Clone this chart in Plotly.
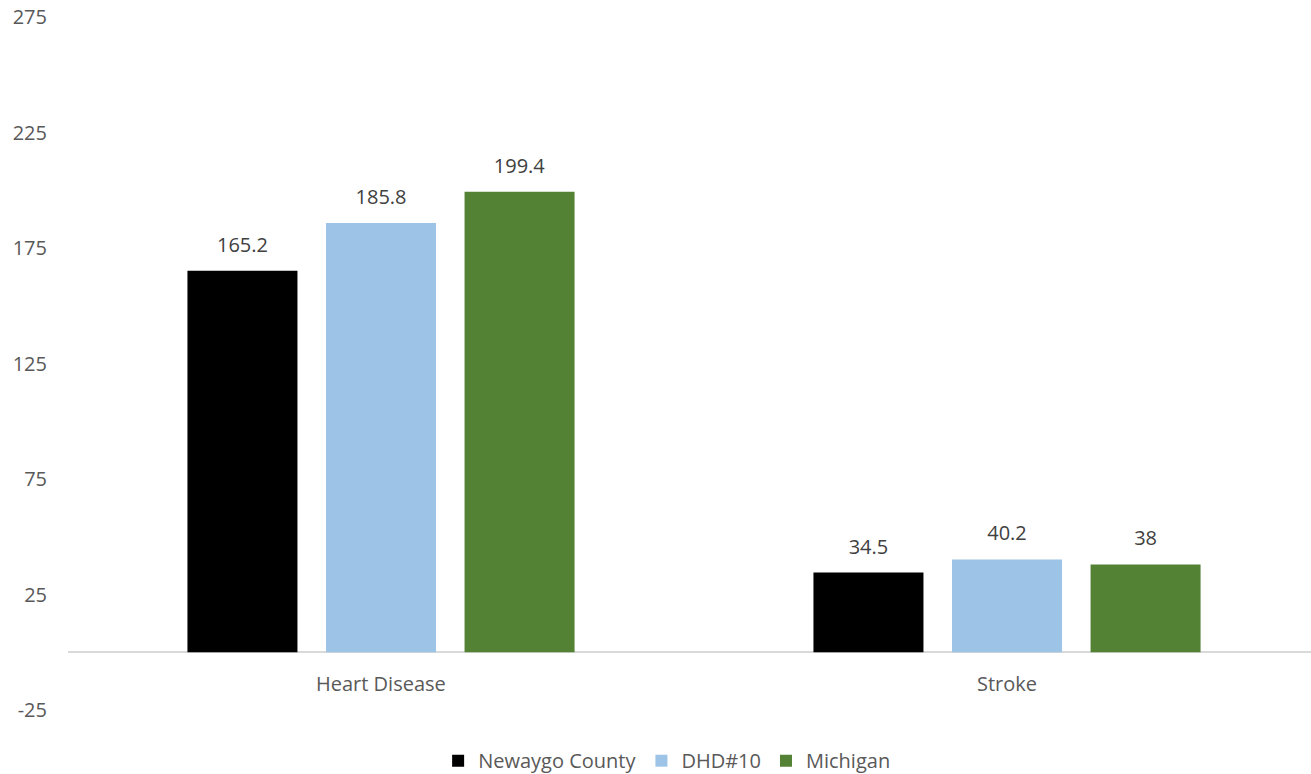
import plotly.graph_objects as go

categories = ["Heart Disease", "Stroke"]
series_names = ["Newaygo County", "DHD#10", "Michigan"]
newaygo = [165.2, 34.5]
dhd10 = [185.8, 40.2]
michigan = [199.4, 38]
tick_vals = [-25, 25, 75, 125, 175, 225, 275]
tick_text = ["-25", "25", "75", "125", "175", "225", "275"]

colors = ["#000000", "#9DC3E6", "#548235"]
font_family = "Open Sans, Liberation Sans, sans-serif"
text_color = "#595959"
fsize = 20

fig = go.Figure()
for name, vals, col in zip(series_names, [newaygo, dhd10, michigan], colors):
    fig.add_trace(go.Bar(
        x=categories,
        y=vals,
        name=name,
        marker=dict(color=col, line=dict(width=0)),
        # small base font + blank second line lifts the label off the bar
        text=[f"<span style='font-size:{fsize}px'>{v:g}</span><br>&nbsp;" for v in vals],
        textposition="outside",
        textfont=dict(size=10, color="#404040", family=font_family),
        cliponaxis=False,
    ))

# category labels sit just below the zero line
for c in categories:
    fig.add_annotation(
        x=c, y=0, xref="x", yref="y",
        text=c, showarrow=False,
        yanchor="top", yshift=-16,
        font=dict(size=fsize, color=text_color, family=font_family),
    )

fig.update_layout(
    width=1311,
    height=774,
    margin=dict(l=68, r=0, t=17, b=64, autoexpand=False),
    plot_bgcolor="white",
    paper_bgcolor="white",
    barmode="group",
    bargap=0.336,
    bargroupgap=0.206,
    showlegend=True,
    legend=dict(
        orientation="h",
        x=0.482, xanchor="center",
        y=-0.045, yanchor="top",
        font=dict(size=fsize, color=text_color, family=font_family),
        itemwidth=30,
        traceorder="normal",
    ),
    font=dict(family=font_family, color=text_color),
)
fig.update_xaxes(showticklabels=False, showgrid=False, showline=False,
                 zeroline=False, automargin=False, range=[-0.5, 1.4856])
fig.update_yaxes(
    range=[-25, 275],
    tickvals=tick_vals,
    ticktext=tick_text,
    showgrid=False,
    showline=False,
    zeroline=True,
    zerolinecolor="#D9D9D9",
    zerolinewidth=2,
    tickfont=dict(size=fsize, color=text_color, family=font_family),
    ticklabelstandoff=20,
    ticklabeloverflow="allow",
    automargin=False,
)

# drop the default body margin so the figure fills the window exactly
fig.write_html("out.html", config={"displayModeBar": False},
               post_script="document.body.style.margin='0';")
